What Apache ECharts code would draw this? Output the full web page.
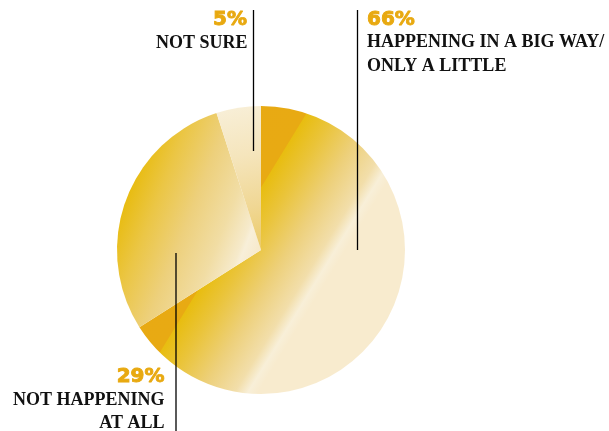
<!DOCTYPE html>
<html>
<head>
<meta charset="utf-8">
<script src="https://cdn.jsdelivr.net/npm/echarts@6/dist/echarts.min.js"></script>
<style>
html,body{margin:0;padding:0;background:#fff;}
#chart{width:609px;height:431px;}
</style>
</head>
<body>
<div id="chart"></div>
<script>
const categories = ['HAPPENING IN A BIG WAY/\nONLY A LITTLE', 'NOT HAPPENING\nAT ALL', 'NOT SURE'];
const values = [66, 29, 5];
const percentLabels = values.map(v => v + '%');

const chart = echarts.init(document.getElementById('chart'), null, {renderer: 'canvas'});
const LG = echarts.graphic.LinearGradient;

const fills = [
  new LG(138.3, 174.7, 383.7, 325.3, [
    {offset: 0, color: '#E8A913'},
    {offset: 0.385, color: '#E8AA13'},
    {offset: 0.388, color: '#E8BD10'},
    {offset: 0.47, color: '#EAC43A'},
    {offset: 0.58, color: '#EDD07A'},
    {offset: 0.68, color: '#F2DEAA'},
    {offset: 0.72, color: '#F8EFD8'},
    {offset: 0.75, color: '#F8EBCE'},
    {offset: 1, color: '#F8EBCE'}
  ], true),
  new LG(127.1, 197.2, 261, 250, [
    {offset: 0, color: '#E8BC12'},
    {offset: 0.2, color: '#EBC645'},
    {offset: 0.45, color: '#EDD07C'},
    {offset: 0.7, color: '#F1DDA4'},
    {offset: 0.86, color: '#F6EACB'},
    {offset: 0.89, color: '#F8EFD9'},
    {offset: 1, color: '#F7E9C9'}
  ], true),
  new LG(228, 106, 262, 250, [
    {offset: 0, color: '#F8EFD8'},
    {offset: 0.35, color: '#F5E5BC'},
    {offset: 0.7, color: '#F0D794'},
    {offset: 1, color: '#EBCA66'}
  ], true)
];

const pctStyle = {font: 'bold 20px "DejaVu Sans"', fill: '#E8A910', stroke: '#E8A910', lineWidth: 0.9};
const txtFont = 'bold 18px "Liberation Serif"';

function lines(i) { return categories[i].split('\n'); }

const graphics = [
  // leader lines
  {type: 'line', shape: {x1: 253.5, y1: 10, x2: 253.5, y2: 151}, style: {stroke: '#000', lineWidth: 1.3}, z: 10},
  {type: 'line', shape: {x1: 357.5, y1: 10, x2: 357.5, y2: 250}, style: {stroke: '#000', lineWidth: 1.3}, z: 10},
  {type: 'line', shape: {x1: 176, y1: 253, x2: 176, y2: 431}, style: {stroke: '#000', lineWidth: 1.3}, z: 10},
  // NOT SURE
  {type: 'text', style: Object.assign({text: percentLabels[2], x: 247, y: 19.7, align: 'right', verticalAlign: 'middle'}, pctStyle)},
  {type: 'text', style: {text: lines(2)[0], x: 247.5, y: 43, align: 'right', verticalAlign: 'middle', font: txtFont, fill: '#111'}},
  // HAPPENING
  {type: 'text', style: Object.assign({text: percentLabels[0], x: 367, y: 19.7, align: 'left', verticalAlign: 'middle'}, pctStyle)},
  {type: 'text', style: {text: lines(0)[0], x: 367, y: 42.3, align: 'left', verticalAlign: 'middle', font: txtFont, fill: '#111'}},
  {type: 'text', style: {text: lines(0)[1], x: 367, y: 66.7, align: 'left', verticalAlign: 'middle', font: txtFont, fill: '#111'}},
  // NOT HAPPENING
  {type: 'text', style: Object.assign({text: percentLabels[1], x: 164.5, y: 376.3, align: 'right', verticalAlign: 'middle'}, pctStyle)},
  {type: 'text', style: {text: lines(1)[0], x: 164.5, y: 400.7, align: 'right', verticalAlign: 'middle', font: txtFont, fill: '#111'}},
  {type: 'text', style: {text: lines(1)[1], x: 164.5, y: 423, align: 'right', verticalAlign: 'middle', font: txtFont, fill: '#111'}}
];

chart.setOption({
  animation: false,
  backgroundColor: '#fff',
  series: [{
    type: 'pie',
    center: [261, 250],
    radius: [0, 144],
    startAngle: 90,
    clockwise: true,
    silent: true,
    label: {show: false},
    labelLine: {show: false},
    itemStyle: {borderWidth: 0},
    emphasis: {disabled: true},
    data: values.map((v, i) => ({value: v, name: categories[i], itemStyle: {color: fills[i], borderWidth: 0}}))
  }],
  graphic: graphics
});
</script>
</body>
</html>
